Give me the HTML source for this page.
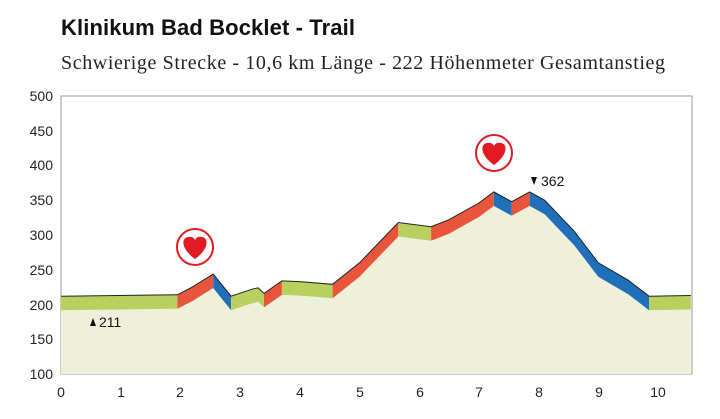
<!DOCTYPE html><html><head><meta charset="utf-8"><style>
body{margin:0;background:#fff;width:720px;height:414px;overflow:hidden}
</style></head><body>
<svg width="720" height="414" xmlns="http://www.w3.org/2000/svg" font-family="Liberation Sans, sans-serif">
<text x="61" y="35" font-size="22" font-weight="bold" fill="#111" textLength="294">Klinikum Bad Bocklet - Trail</text>
<text x="61" y="69" font-size="20" font-family="Liberation Serif, serif" fill="#222" textLength="604">Schwierige Strecke - 10,6 km Länge - 222 Höhenmeter Gesamtanstieg</text>
<rect x="61" y="96" width="631" height="278" fill="#fff" stroke="#999" stroke-width="1"/>
<polygon fill="#eef0d9" points="61,310.2 177.4,308.8 192.3,301.1 213.2,288 231.1,310.2 252,303.2 258,301.8 264,307.4 281.9,294.9 299.8,295.6 329.7,298.3 332.6,298.3 359.5,276.8 398.3,236.5 431.1,240.7 449,233.7 478.9,217 493.8,205.9 511.7,215.7 529.6,205.9 544.6,214.2 574.4,245.5 598.3,276.8 628.2,294.2 649,310.2 690.8,309.5 690.8,374 61,374"/>
<g stroke="none">
<polygon fill="#b9cf5e" points="61,296.2 177.4,294.8 177.4,308.8 61,310.2"/>
<polygon fill="#e8553a" points="177.4,294.8 192.3,287.1 213.2,274 213.2,288 192.3,301.1 177.4,308.8"/>
<polygon fill="#1f6fba" points="213.2,274 231.1,296.2 231.1,310.2 213.2,288"/>
<polygon fill="#b9cf5e" points="231.1,296.2 252,289.2 258,287.8 264,293.4 264,307.4 258,301.8 252,303.2 231.1,310.2"/>
<polygon fill="#e8553a" points="264,293.4 281.9,280.9 281.9,294.9 264,307.4"/>
<polygon fill="#b9cf5e" points="281.9,280.9 299.8,281.6 332.6,284.3 332.6,298.3 299.8,295.6 281.9,294.9"/>
<polygon fill="#e8553a" points="332.6,284.3 359.5,262.8 398.3,222.5 398.3,236.5 359.5,276.8 332.6,298.3"/>
<polygon fill="#b9cf5e" points="398.3,222.5 431.1,226.7 431.1,240.7 398.3,236.5"/>
<polygon fill="#e8553a" points="431.1,226.7 449,219.7 478.9,203 493.8,191.9 493.8,205.9 478.9,217 449,233.7 431.1,240.7"/>
<polygon fill="#1f6fba" points="493.8,191.9 511.7,201.7 511.7,215.7 493.8,205.9"/>
<polygon fill="#e8553a" points="511.7,201.7 529.6,191.9 529.6,205.9 511.7,215.7"/>
<polygon fill="#1f6fba" points="529.6,191.9 544.6,200.2 574.4,231.5 598.3,262.8 628.2,280.2 649,296.2 649,310.2 628.2,294.2 598.3,276.8 574.4,245.5 544.6,214.2 529.6,205.9"/>
<polygon fill="#b9cf5e" points="649,296.2 690.8,295.5 690.8,309.5 649,310.2"/>
</g>
<polyline fill="none" stroke="#222" stroke-width="1" points="61,296.2 177.4,294.8 192.3,287.1 213.2,274 231.1,296.2 252,289.2 258,287.8 264,293.4 281.9,280.9 299.8,281.6 332.6,284.3 359.5,262.8 398.3,222.5 431.1,226.7 449,219.7 478.9,203 493.8,191.9 511.7,201.7 529.6,191.9 544.6,200.2 574.4,231.5 598.3,262.8 628.2,280.2 649,296.2 690.8,295.5"/>
<g font-size="14" fill="#222" text-anchor="end">
<text x="53" y="101">500</text><text x="53" y="136">450</text><text x="53" y="170">400</text><text x="53" y="205">350</text><text x="53" y="240">300</text><text x="53" y="275">250</text><text x="53" y="310">200</text><text x="53" y="344">150</text><text x="53" y="379">100</text>
</g>
<g font-size="14" fill="#222" text-anchor="middle">
<text x="61" y="397">0</text><text x="121" y="397">1</text><text x="180" y="397">2</text><text x="240" y="397">3</text><text x="300" y="397">4</text><text x="360" y="397">5</text><text x="420" y="397">6</text><text x="479" y="397">7</text><text x="539" y="397">8</text><text x="599" y="397">9</text><text x="658" y="397">10</text>
</g>
<polygon points="90,326 96,326 93,318" fill="#111"/>
<text x="99" y="327" font-size="14" fill="#111">211</text>
<polygon points="531,177 537,177 534,185" fill="#111"/>
<text x="541" y="186" font-size="14" fill="#111">362</text>
<g fill="none" stroke="#e11b22" stroke-width="2">
<circle cx="195" cy="247" r="18"/><circle cx="494" cy="153" r="18"/>
</g>
<g fill="#e11b22">
<path d="M195,259 C181,249 181,238 188,237 C192,236 194,238 195,240 C196,238 198,236 202,237 C209,238 209,249 195,259Z"/>
<path d="M494,165 C480,155 480,144 487,143 C491,142 493,144 494,146 C495,144 497,142 501,143 C508,144 508,155 494,165Z"/>
</g>
</svg>
</body></html>
